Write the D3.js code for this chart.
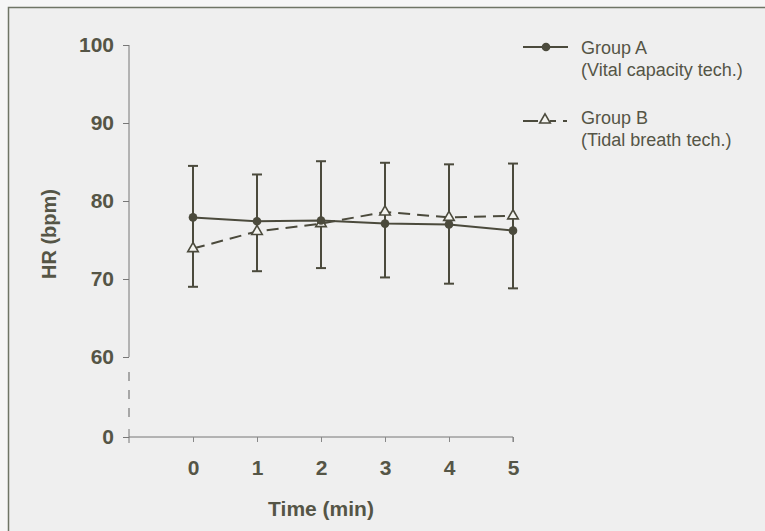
<!DOCTYPE html>
<html>
<head>
<meta charset="utf-8">
<script src="https://cdn.jsdelivr.net/npm/d3@7"></script>
<style>
  html, body { margin: 0; padding: 0; background: #f6f6f6; }
  svg { display: block; }
  text { font-family: "Liberation Sans", Arial, sans-serif; }
</style>
</head>
<body>
<svg id="chart" width="765" height="531"></svg>
<script>
// ---- data ----
const times = [0, 1, 2, 3, 4, 5];
const groupA = [77.9, 77.4, 77.5, 77.1, 77.0, 76.2];
const groupB = [73.9, 76.1, 77.1, 78.6, 77.9, 78.1];
const upperLimit = [84.5, 83.4, 85.1, 84.9, 84.7, 84.8];
const lowerLimit = [69.0, 71.0, 71.4, 70.2, 69.4, 68.8];
const yTicks = [0, 60, 70, 80, 90, 100];
const xTicks = [0, 1, 2, 3, 4, 5];
const seriesNames = ["Group A", "Group B"];
const seriesNotes = ["(Vital capacity tech.)", "(Tidal breath tech.)"];

const ink = "#4b4a3c";
const textInk = "#555546";
const font = "'Liberation Sans', Arial, sans-serif";
const svg = d3.select("#chart");

// frame
svg.append("rect").attr("x", 8.5).attr("y", 7.5).attr("width", 800).attr("height", 600)
  .attr("fill", "#efefef").attr("stroke", "#6f7566").attr("stroke-width", 1.5);

// scales (broken y axis: 0 then 60..100)
const x = d3.scaleLinear().domain([-1, 5]).range([129, 513]);
const y = d3.scaleLinear().domain([0, 60, 100]).range([437, 357, 45]);

// y axis
const yAxisG = svg.append("g").attr("transform", "translate(129,0)");
yAxisG.append("line").attr("x1", 0).attr("x2", 0).attr("y1", y(100)).attr("y2", y(60))
  .attr("stroke", "#777").attr("stroke-width", 1);
yAxisG.append("line").attr("x1", 0).attr("x2", 0).attr("y1", y(60) + 15).attr("y2", y(0) - 14)
  .attr("stroke", "#777").attr("stroke-width", 1.2).attr("stroke-dasharray", "9,9");
yAxisG.append("line").attr("x1", 0).attr("x2", 0).attr("y1", y(0) - 8).attr("y2", y(0) + 6)
  .attr("stroke", "#777").attr("stroke-width", 1);
const yAxis = d3.axisLeft(y).tickValues(yTicks).tickSize(6).tickPadding(9).tickFormat(d3.format("d"));
const yg = svg.append("g").attr("transform", "translate(129,0)").call(yAxis);
yg.attr("font-size", null).attr("font-family", null);
yg.select(".domain").remove();
yg.selectAll(".tick line").attr("stroke", "#777");
yg.selectAll(".tick text").attr("fill", textInk).style("font-size", "21px").style("font-weight", "bold")
  .style("font-family", font);

// x axis
const xAxis = d3.axisBottom(x).tickValues(xTicks).tickSize(5).tickPadding(18).tickFormat(d3.format("d"));
const xg = svg.append("g").attr("transform", `translate(0,${y(0)})`).call(xAxis);
xg.attr("font-size", null).attr("font-family", null);
xg.select(".domain").attr("d", `M${x(-1)},0H${x(5)}V5`).attr("stroke", "#777");
xg.selectAll(".tick line").attr("stroke", "#888");
xg.selectAll(".tick text").attr("fill", textInk).style("font-size", "21px").style("font-weight", "bold")
  .style("font-family", font);

// axis labels
svg.append("text").attr("x", x(2)).attr("y", 516).attr("text-anchor", "middle")
  .attr("fill", textInk).style("font-size", "21px").style("font-weight", "bold").text("Time (min)");
svg.append("text").attr("transform", `translate(56,${(y(60) + y(100)) / 2 + 33}) rotate(-90)`)
  .attr("text-anchor", "middle").attr("fill", textInk).style("font-size", "20px").style("font-weight", "bold")
  .text("HR (bpm)");

// error bars
const capW = 5;
const eb = svg.append("g").attr("stroke", ink).attr("stroke-width", 2);
times.forEach((t, i) => {
  eb.append("line").attr("x1", x(t)).attr("x2", x(t)).attr("y1", y(upperLimit[i])).attr("y2", y(lowerLimit[i]));
  eb.append("line").attr("x1", x(t) - capW).attr("x2", x(t) + capW).attr("y1", y(upperLimit[i])).attr("y2", y(upperLimit[i]));
  eb.append("line").attr("x1", x(t) - capW).attr("x2", x(t) + capW).attr("y1", y(lowerLimit[i])).attr("y2", y(lowerLimit[i]));
});

// lines
const lineGen = d3.line().x((d, i) => x(times[i])).y(d => y(d));
svg.append("path").datum(groupB).attr("d", lineGen).attr("fill", "none")
  .attr("stroke", ink).attr("stroke-width", 2).attr("stroke-dasharray", "12,7");
svg.append("path").datum(groupA).attr("d", lineGen).attr("fill", "none")
  .attr("stroke", ink).attr("stroke-width", 2);

// markers
const tri = d3.symbol().type(d3.symbolTriangle).size(48);
svg.append("g").selectAll("path").data(groupB).join("path")
  .attr("d", tri).attr("transform", (d, i) => `translate(${x(times[i])},${y(d)})`)
  .attr("fill", "#f4f4f0").attr("stroke", ink).attr("stroke-width", 1.6);
svg.append("g").selectAll("circle").data(groupA).join("circle")
  .attr("cx", (d, i) => x(times[i])).attr("cy", d => y(d)).attr("r", 4.3).attr("fill", ink);

// legend
const lg = svg.append("g");
lg.append("line").attr("x1", 523).attr("x2", 568).attr("y1", 47).attr("y2", 47).attr("stroke", ink).attr("stroke-width", 2);
lg.append("circle").attr("cx", 546).attr("cy", 47).attr("r", 4.3).attr("fill", ink);
lg.append("line").attr("x1", 523).attr("x2", 538).attr("y1", 121).attr("y2", 121).attr("stroke", ink).attr("stroke-width", 2);
lg.append("line").attr("x1", 550).attr("x2", 556).attr("y1", 121).attr("y2", 121).attr("stroke", ink).attr("stroke-width", 2);
lg.append("line").attr("x1", 563).attr("x2", 567).attr("y1", 121).attr("y2", 121).attr("stroke", ink).attr("stroke-width", 2);
lg.append("path").attr("d", tri).attr("transform", "translate(545,120)")
  .attr("fill", "#f4f4f0").attr("stroke", ink).attr("stroke-width", 1.6);
const ly = [54, 124];
seriesNames.forEach((n, i) => {
  lg.append("text").attr("x", 581).attr("y", ly[i]).attr("fill", textInk).style("font-size", "18px").text(n);
  lg.append("text").attr("x", 581).attr("y", ly[i] + 22).attr("fill", textInk).style("font-size", "18px").text(seriesNotes[i]);
});
</script>
</body>
</html>
